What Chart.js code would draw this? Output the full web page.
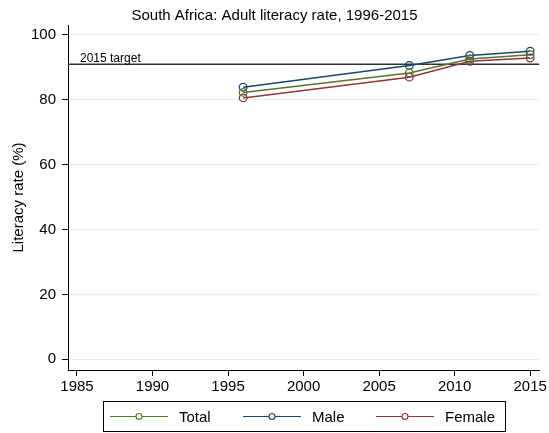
<!DOCTYPE html>
<html>
<head>
<meta charset="utf-8">
<script src="https://cdn.jsdelivr.net/npm/chart.js@4/dist/chart.umd.min.js"></script>
<style>
  html, body { margin: 0; padding: 0; background: #fff; }
  #chart { display: block; }
</style>
</head>
<body>
<canvas id="chart" width="549" height="433"></canvas>
<script>
// South Africa adult literacy, Stata-like look
var YEARS = [1996, 2007, 2011, 2015];
var TOTAL = [82.3, 88.3, 92.6, 93.9];
var MALE = [83.9, 90.6, 93.7, 95.0];
var FEMALE = [80.6, 87.0, 91.9, 92.9];
var SERIES_NAMES = ["Total", "Male", "Female"];
var TARGET = 91;
var TARGET_LABEL = "2015 target";
var TITLE = "South Africa: Adult literacy rate, 1996-2015";

var GREEN = "#55752f";
var NAVY = "#1a476f";
var MAROON = "#90353b";
var GRID = "#eaeaea";
var FONT = "'Liberation Sans', Arial, sans-serif";

Chart.defaults.font.family = FONT;
Chart.defaults.color = "#000";

function pts(vals) {
  return YEARS.map(function (y, i) { return { x: y, y: vals[i] }; });
}

function series(label, vals, color) {
  return {
    label: label,
    data: pts(vals),
    borderColor: color,
    backgroundColor: "rgba(0,0,0,0)",
    borderWidth: 1.5,
    pointRadius: 3.8,
    pointBorderWidth: 1.3,
    pointBorderColor: color,
    pointBackgroundColor: "rgba(0,0,0,0)",
    tension: 0
  };
}

// title centred on the whole graph, like Stata does
var graphTitle = {
  id: "graphTitle",
  afterDraw: function (chart) {
    var ctx = chart.ctx;
    ctx.save();
    ctx.fillStyle = "#000";
    ctx.font = "15px " + FONT;
    ctx.textAlign = "center";
    ctx.textBaseline = "alphabetic";
    ctx.fillText(TITLE, chart.width / 2, 20);
    ctx.restore();
  }
};

// horizontal target line across the plot region
var targetLine = {
  id: "targetLine",
  beforeDatasetsDraw: function (chart) {
    var a = chart.chartArea, ctx = chart.ctx;
    var y = chart.scales.y.getPixelForValue(TARGET);
    ctx.save();
    ctx.strokeStyle = "#333";
    ctx.lineWidth = 1.6;
    ctx.beginPath();
    ctx.moveTo(a.left, y);
    ctx.lineTo(a.right, y);
    ctx.stroke();
    ctx.fillStyle = "#000";
    ctx.font = "12px " + FONT;
    ctx.textBaseline = "alphabetic";
    ctx.fillText(TARGET_LABEL, a.left + 12, y - 2);
    ctx.restore();
  }
};

// boxed legend under the x axis
var boxLegend = {
  id: "boxLegend",
  afterDraw: function (chart) {
    var a = chart.chartArea, ctx = chart.ctx;
    var w = 402, h = 30;
    var cx = (a.left + a.right) / 2;
    var left = Math.round(cx - w / 2), top = 401;
    ctx.save();
    ctx.strokeStyle = "#000";
    ctx.lineWidth = 1;
    ctx.strokeRect(left + 0.5, top + 0.5, w, h);
    ctx.font = "15px " + FONT;
    ctx.textBaseline = "middle";
    var midY = top + h / 2 + 0.5;
    chart.data.datasets.forEach(function (ds, i) {
      var x0 = left + 7 + i * 133;
      ctx.strokeStyle = ds.borderColor;
      ctx.lineWidth = 1.2;
      ctx.beginPath();
      ctx.moveTo(x0, midY);
      ctx.lineTo(x0 + 58, midY);
      ctx.stroke();
      ctx.beginPath();
      ctx.arc(x0 + 29, midY, 3, 0, Math.PI * 2);
      ctx.fillStyle = "#fff";
      ctx.fill();
      ctx.stroke();
      ctx.fillStyle = "#000";
      ctx.fillText(SERIES_NAMES[i], x0 + 69, midY + 1);
    });
    ctx.restore();
  }
};

new Chart(document.getElementById("chart"), {
  type: "line",
  data: {
    datasets: [
      series(SERIES_NAMES[0], TOTAL, GREEN),
      series(SERIES_NAMES[1], MALE, NAVY),
      series(SERIES_NAMES[2], FEMALE, MAROON)
    ]
  },
  options: {
    responsive: false,
    animation: false,
    devicePixelRatio: 1,
    layout: { padding: { left: 0, right: 9, top: 25, bottom: 38 } },
    plugins: {
      legend: { display: false },
      tooltip: { enabled: false },
      title: { display: false }
    },
    scales: {
      x: {
        type: "linear",
        min: 1984.405,
        max: 2015.595,
        border: { color: "#000", width: 1 },
        grid: { drawOnChartArea: false, tickColor: "#000", tickLength: 6 },
        ticks: { stepSize: 5, includeBounds: false, font: { size: 15 }, padding: 2, maxRotation: 0,
          callback: function (v) { return String(v); } },
        afterFit: function (s) { s.height = 25; }
      },
      y: {
        min: -3.3,
        max: 103.08,
        border: { color: "#000", width: 1 },
        grid: { color: GRID, tickColor: "#000", tickLength: 6 },
        ticks: { stepSize: 20, includeBounds: false, font: { size: 15 }, padding: 6 },
        title: { display: true, text: "Literacy rate (%)", font: { size: 15 }, color: "#000", padding: { top: 10, bottom: 0 } },
        afterFit: function (s) { s.width = 68; }
      }
    }
  },
  plugins: [graphTitle, targetLine, boxLegend]
});
</script>
</body>
</html>
